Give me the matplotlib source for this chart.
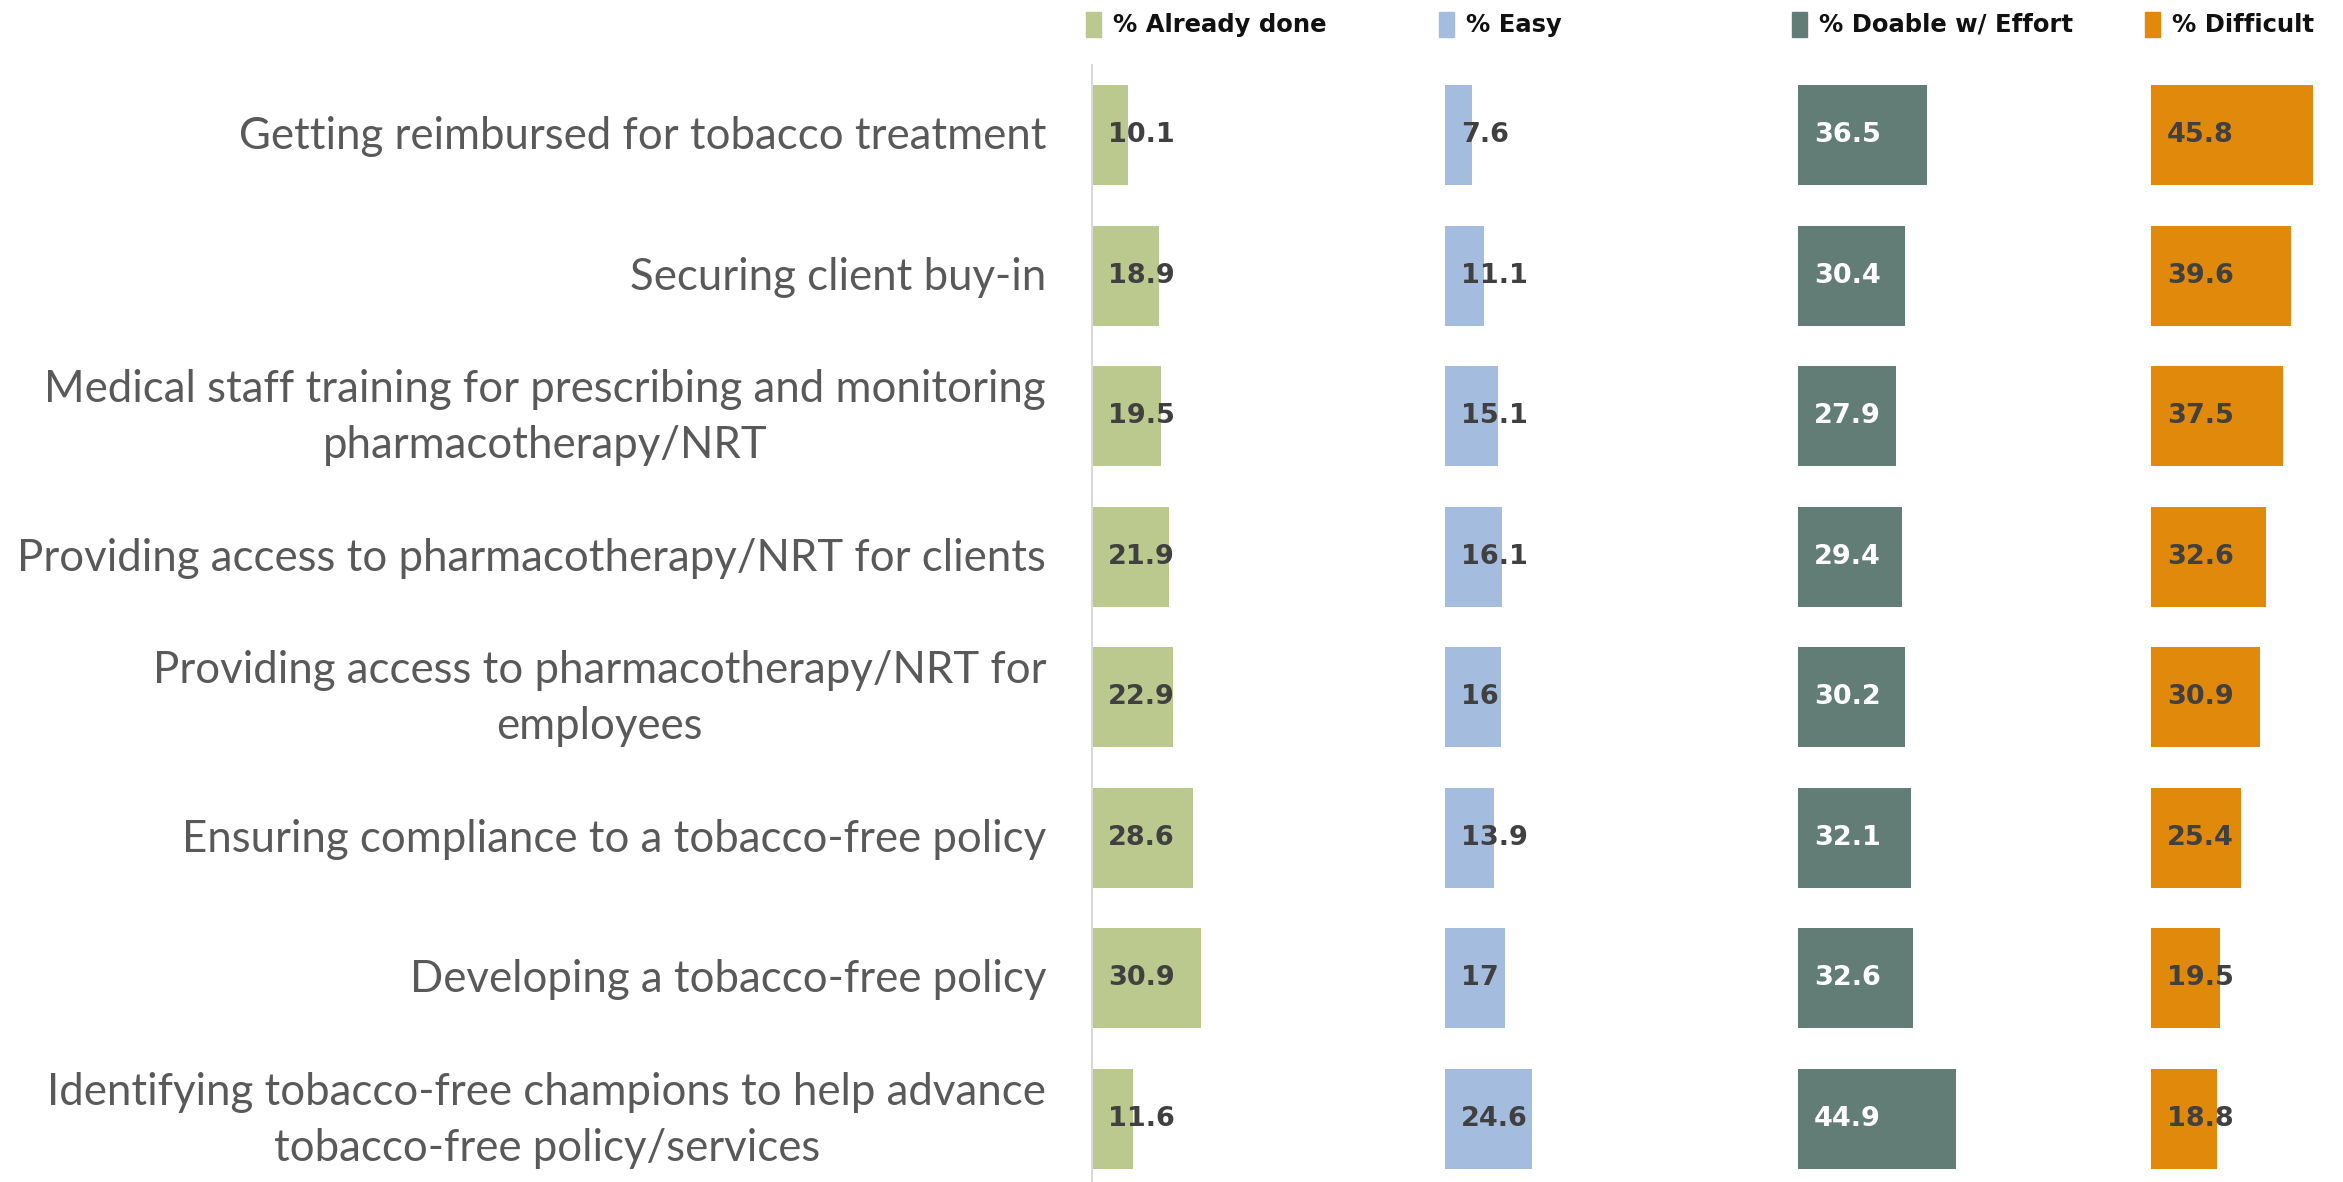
import matplotlib.pyplot as plt
import matplotlib.transforms as mtransforms
from matplotlib.patches import Rectangle

# --- data -------------------------------------------------------------------
categories = [
    "Getting reimbursed for tobacco treatment",
    "Securing client buy-in",
    "Medical staff training for prescribing and monitoring\npharmacotherapy/NRT",
    "Providing access to pharmacotherapy/NRT for clients",
    "Providing access to pharmacotherapy/NRT for\nemployees",
    "Ensuring compliance to a tobacco-free policy",
    "Developing a tobacco-free policy",
    "Identifying tobacco-free champions to help advance\ntobacco-free policy/services",
]
series_names = ["% Already done", "% Easy", "% Doable w/ Effort", "% Difficult"]
already_done = [10.1, 18.9, 19.5, 21.9, 22.9, 28.6, 30.9, 11.6]
easy = [7.6, 11.1, 15.1, 16.1, 16, 13.9, 17, 24.6]
doable = [36.5, 30.4, 27.9, 29.4, 30.2, 32.1, 32.6, 44.9]
difficult = [45.8, 39.6, 37.5, 32.6, 30.9, 25.4, 19.5, 18.8]

colors = ["#BBC88E", "#A4BCDE", "#627D76", "#E0890A"]
label_colors = ["#404040", "#404040", "#FFFFFF", "#404040"]
COL_STEP = 100  # each series gets its own 100-unit column

W, H = 2343, 1182
fig = plt.figure(figsize=(W / 100, H / 100), dpi=100)
ax = fig.add_axes([1092 / W, 0.0, 1 - 1092 / W, 1 - 65 / H])

values = [already_done, easy, doable, difficult]
rows = list(range(len(categories)))

for i, (vals, col, tcol) in enumerate(zip(values, colors, label_colors)):
    base = i * COL_STEP
    ax.barh(rows, vals, left=base, height=0.71, color=col)
    for r, v in zip(rows, vals):
        ax.text(base + 4.6, r, f"{v:g}", va="center", ha="left",
                fontsize=19.5, fontweight="bold", color=tcol)

ax.set_xlim(0, (W - 1092) / 3.53)
ax.set_ylim(len(categories) - 0.55, -0.5)
ax.set_xticks([])
ax.set_yticks([])
for s in ["top", "right", "bottom"]:
    ax.spines[s].set_visible(False)
ax.spines["left"].set_color("#D9D9D9")
ax.spines["left"].set_linewidth(1.5)

# category labels
for r, cat in zip(rows, categories):
    ax.text(-13, r + 0.01, cat, ha="right", va="center", multialignment="center",
            fontsize=31.5, color="#595959", family="Lato", linespacing=1.45)

# legend, one key above each column
trans = mtransforms.blended_transform_factory(ax.transData, fig.transFigure)
for i, (name, col) in enumerate(zip(series_names, colors)):
    x0 = i * COL_STEP - 1.7
    ax.add_patch(Rectangle((x0, 1 - 37 / H), 4.3, 25 / H, transform=trans,
                           color=col, clip_on=False))
    ax.text(x0 + 7.6, 1 - 25 / H, name, transform=trans, ha="left",
            va="center", fontsize=17.5, fontweight="bold", color="#111111")

fig.savefig("out.png", dpi=100)
